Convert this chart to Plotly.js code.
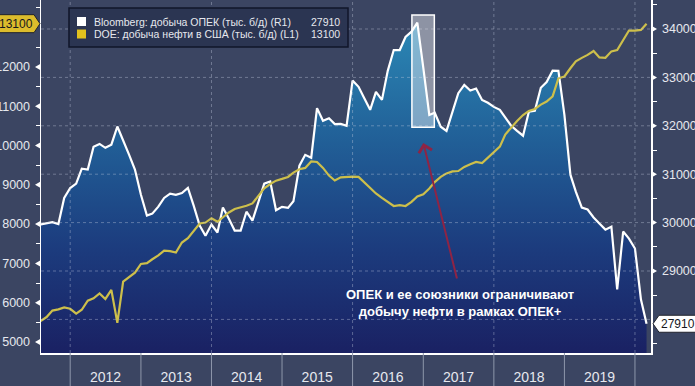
<!DOCTYPE html>
<html>
<head>
<meta charset="utf-8">
<script src="https://cdn.plot.ly/plotly-3.0.1.min.js"></script>
<style>html,body{margin:0;padding:0;background:#3b4562;}#chart{width:695px;height:386px;}</style>
</head>
<body>
<div id="chart"></div>
<script>
// ---- Data (monthly, positions as drawn) ----
const months = [
 '2011-08','2011-09','2011-10','2011-11','2011-12',
 '2012-01','2012-02','2012-03','2012-04','2012-05','2012-06','2012-07','2012-08','2012-09','2012-10','2012-11','2012-12',
 '2013-01','2013-02','2013-03','2013-04','2013-05','2013-06','2013-07','2013-08','2013-09','2013-10','2013-11','2013-12',
 '2014-01','2014-02','2014-03','2014-04','2014-05','2014-06','2014-07','2014-08','2014-09','2014-10','2014-11','2014-12',
 '2015-01','2015-02','2015-03','2015-04','2015-05','2015-06','2015-07','2015-08','2015-09','2015-10','2015-11','2015-12',
 '2016-01','2016-02','2016-03','2016-04','2016-05','2016-06','2016-07','2016-08','2016-09','2016-10','2016-11','2016-12',
 '2017-01','2017-02','2017-03','2017-04','2017-05','2017-06','2017-07','2017-08','2017-09','2017-10','2017-11','2017-12',
 '2018-01','2018-02','2018-03','2018-04','2018-05','2018-06','2018-07','2018-08','2018-09','2018-10','2018-11','2018-12',
 '2019-01','2019-02','2019-03','2019-04','2019-05','2019-06','2019-07','2019-08','2019-09','2019-10','2019-11','2019-12',
 '2020-01','2020-02','2020-03'
];
// Bloomberg: добыча ОПЕК (тыс. б/д), right axis
const opecOutput = [
 29960,29990,30010,29970,30510,
 30715,30805,31115,31095,31565,31625,31545,31610,31985,31710,31400,31095,
 30575,30145,30185,30330,30510,30600,30575,30610,30715,30350,29940,29730,
 29960,29795,30310,30080,29835,29835,30225,30040,30435,30805,30850,30255,
 30325,30305,30440,31175,31400,31340,32365,32105,32155,32035,32040,32000,
 32935,32805,32575,32330,32700,32535,33135,33565,33565,33835,33945,34130,
 33195,32225,32270,31980,31895,32290,32675,32845,32730,32770,32535,32475,
 32390,32330,32165,32000,31895,31795,32290,32310,32785,32905,33140,33135,
 32225,30990,30640,30310,30270,30105,29980,29855,29915,28620,29815,29670,
 29465,28410,27910
];
// DOE: добыча нефти в США (тыс. б/д), left axis
const usOutput = [
 5535,5635,5800,5830,5880,
 5845,5720,5820,6050,6110,6235,6095,6325,5490,6535,6645,6765,
 6985,7005,7105,7205,7325,7310,7275,7530,7640,7825,8015,8040,
 8150,8060,8180,8295,8385,8425,8465,8525,8715,8910,9020,9105,
 9150,9200,9310,9395,9430,9595,9580,9430,9235,9110,9190,9205,
 9210,9200,9060,8920,8780,8665,8565,8460,8480,8460,8565,8705,
 8760,8905,9070,9200,9290,9340,9350,9455,9520,9580,9550,9685,
 9820,9970,10280,10460,10625,10775,10880,10930,11040,11120,11250,11710,
 11755,11965,12140,12230,12305,12405,12240,12230,12395,12430,12685,12925,
 12925,12940,13100
];
const yearLabels = ['2012','2013','2014','2015','2016','2017','2018','2019'];
const yearMid = ['2012-07-02','2013-07-02','2014-07-02','2015-07-02','2016-07-02','2017-07-02','2018-07-02','2019-07-02'];
const yearStarts = ['2012-01-01','2013-01-01','2014-01-01','2015-01-01','2016-01-01','2017-01-01','2018-01-01','2019-01-01','2020-01-01'];
const gridYears = ['2012-01-01','2014-01-01','2016-01-01','2018-01-01','2020-01-01'];
const rightTicks = [28000,29000,30000,31000,32000,33000,34000];
const rightTickText = ['','29000','30000','31000','32000','33000','34000'];
const leftTicks = [5000,6000,7000,8000,9000,10000,11000,12000];
const leftTickText = ['5000','6000','7000','8000','9000','10000','11000','12000'];
const legendNames = ['Bloomberg: добыча ОПЕК (тыс. б/д) (R1)','DOE: добыча нефти в США (тыс. б/д) (L1)'];
const lastOpec = 27910, lastUs = 13100;
const calloutText = 'ОПЕК и ее союзники ограничивают<br>добычу нефти в рамках ОПЕК+';

const FONT = "'Liberation Sans',Arial,sans-serif";
const BG = '#3b4562';
const TXT = '#e6e8ee';

const traces = [
 {x: months, y: opecOutput, type:'scatter', mode:'lines', yaxis:'y', xaxis:'x',
  line:{color:'#ffffff', width:2.2}, fill:'tozeroy',
  fillgradient:{type:'vertical', start:27306, stop:34600,
    colorscale:[[0,'#1a2163'],[0.3,'#1c3c7e'],[0.6,'#215f97'],[1,'#2d90bb']]},
  hoverinfo:'skip', showlegend:false},
 {x: months, y: usOutput, type:'scatter', mode:'lines', yaxis:'y2', xaxis:'x',
  line:{color:'#cdbf4b', width:2.2}, hoverinfo:'skip', showlegend:false}
];

const shapes = [];
// horizontal grid (above fill)
rightTicks.forEach(v => shapes.push({type:'line', xref:'paper', yref:'y', x0:0, x1:1, y0:v, y1:v,
  line:{color:'rgba(200,208,226,0.38)', width:1, dash:'dot'}, layer:'above'}));
// vertical grid
gridYears.forEach(d => shapes.push({type:'line', xref:'x', yref:'paper', x0:d, x1:d, y0:0, y1:1,
  line:{color:'rgba(200,208,226,0.38)', width:1, dash:'dot'}, layer:'above'}));
// year separators below axis
yearStarts.forEach(d => shapes.push({type:'line', xref:'x', yref:'paper', x0:d, x1:d, y0:0, y1:-0.0935,
  line:{color:'#8e97ab', width:1}, layer:'above'}));
// highlight rectangle
shapes.push({type:'rect', xref:'x', yref:'y', x0:'2016-11-03', x1:'2017-02-27', y0:31969, y1:34289,
  fillcolor:'rgba(255,255,255,0.42)', line:{color:'#ffffff', width:1.5}, layer:'above'});
// triangle tick markers
leftTicks.forEach(v => shapes.push({type:'path', xref:'paper', yref:'y2', xsizemode:'pixel', ysizemode:'pixel',
  xanchor:0, yanchor:v, path:'M0,-3.5 L0,3.5 L-6,0 Z', fillcolor:'#ffffff', line:{width:0}, layer:'above'}));
rightTicks.slice(1).forEach(v => shapes.push({type:'path', xref:'paper', yref:'y', xsizemode:'pixel', ysizemode:'pixel',
  xanchor:1, yanchor:v, path:'M0,-3.5 L0,3.5 L6,0 Z', fillcolor:'#ffffff', line:{width:0}, layer:'above'}));
// value tags
shapes.push({type:'path', xref:'paper', yref:'y2', xsizemode:'pixel', ysizemode:'pixel', xanchor:0, yanchor:lastUs,
  path:'M-1,0 L-7,9 L-50,9 L-50,-9 L-7,-9 Z', fillcolor:'#dcbc2c', line:{color:'#20232c', width:1}, layer:'above'});
shapes.push({type:'path', xref:'paper', yref:'y', xsizemode:'pixel', ysizemode:'pixel', xanchor:1, yanchor:lastOpec,
  path:'M2,0 L8,-8.5 L52,-8.5 L52,8.5 L8,8.5 Z', fillcolor:'#ffffff', line:{color:'#20232c', width:1}, layer:'above'});
// legend box and swatches
shapes.push({type:'rect', xref:'paper', yref:'paper', x0:0.0459, x1:0.5033, y0:0.8669, y1:0.9773,
  fillcolor:'#2b3552', line:{color:'#11162a', width:1.5}, layer:'above'});
shapes.push({type:'rect', xref:'paper', yref:'paper', x0:0.0590, x1:0.0738, y0:0.9263, y1:0.9518,
  fillcolor:'#ffffff', line:{width:0}, layer:'above'});
shapes.push({type:'rect', xref:'paper', yref:'paper', x0:0.0590, x1:0.0738, y0:0.8909, y1:0.9164,
  fillcolor:'#e2c21e', line:{width:0}, layer:'above'});

const annotations = [
 {xref:'paper', yref:'paper', x:0.0836, y:0.9390, xanchor:'left', yanchor:'middle', showarrow:false,
  text:legendNames[0], font:{family:FONT, size:10.5, color:TXT}},
 {xref:'paper', yref:'paper', x:0.0836, y:0.9040, xanchor:'left', yanchor:'middle', showarrow:false,
  text:legendNames[1], font:{family:FONT, size:10.5, color:TXT}},
 {xref:'paper', yref:'paper', x:0.4934, y:0.9390, xanchor:'right', yanchor:'middle', showarrow:false,
  text:String(lastOpec), font:{family:FONT, size:10.5, color:TXT}},
 {xref:'paper', yref:'paper', x:0.4934, y:0.9040, xanchor:'right', yanchor:'middle', showarrow:false,
  text:String(lastUs), font:{family:FONT, size:10.5, color:TXT}},
 {xref:'paper', yref:'y2', x:0, y:lastUs, xanchor:'right', yanchor:'middle', xshift:-6, showarrow:false,
  text:String(lastUs), font:{family:FONT, size:12, color:'#15171d'}},
 {xref:'paper', yref:'y', x:1, y:lastOpec, xanchor:'left', yanchor:'middle', xshift:8, showarrow:false,
  text:String(lastOpec), font:{family:FONT, size:12, color:'#15171d'}},
 {xref:'x', yref:'y', x:'2017-01-01', y:31645, ax:34, ay:137, showarrow:true, arrowhead:4, arrowsize:1.3,
  arrowwidth:2, arrowcolor:'#8e2445', text:''},
 {xref:'paper', yref:'paper', x:0.6869, y:0.1416, xanchor:'center', yanchor:'middle', showarrow:false, align:'center',
  text:'<b>'+calloutText.replace('<br>','</b><br><b>')+'</b>', font:{family:FONT, size:13, color:'#ffffff'}}
];

const layout = {
 width:695, height:386,
 margin:{l:41, r:44, t:0, b:33, pad:0},
 paper_bgcolor:BG, plot_bgcolor:BG,
 showlegend:false,
 xaxis:{type:'date', range:['2011-08-03','2020-03-24'], tickmode:'array', tickvals:yearMid, ticktext:yearLabels,
   ticks:'outside', ticklen:11, tickcolor:'rgba(0,0,0,0)', showgrid:false, zeroline:false,
   showline:true, linecolor:'#ffffff', linewidth:1.5, tickfont:{family:FONT, size:14, color:TXT}, fixedrange:true},
 yaxis:{side:'right', range:[27306,34599], tickmode:'array', tickvals:rightTicks, ticktext:rightTickText,
   ticks:'outside', ticklen:7, tickcolor:'rgba(0,0,0,0)', showgrid:false, zeroline:false,
   showline:true, linecolor:'#ffffff', linewidth:1.5, tickfont:{family:FONT, size:12.5, color:TXT},
   minor:{tickmode:'linear', tick0:27500, dtick:1000, ticks:'outside', ticklen:4, tickcolor:'#ffffff', tickwidth:1, showgrid:false},
   fixedrange:true},
 yaxis2:{overlaying:'y', side:'left', anchor:'x', range:[4720,13702], tickmode:'array', tickvals:leftTicks, ticktext:leftTickText,
   ticks:'outside', ticklen:7, tickcolor:'rgba(0,0,0,0)', showgrid:false, zeroline:false,
   showline:true, linecolor:'#ffffff', linewidth:1.5, tickfont:{family:FONT, size:12.5, color:TXT},
   minor:{tickmode:'linear', tick0:500, dtick:1000, ticks:'outside', ticklen:4, tickcolor:'#ffffff', tickwidth:1, showgrid:false},
   fixedrange:true},
 shapes:shapes,
 annotations:annotations
};

Plotly.newPlot('chart', traces, layout, {displayModeBar:false, staticPlot:true});
</script>
</body>
</html>
